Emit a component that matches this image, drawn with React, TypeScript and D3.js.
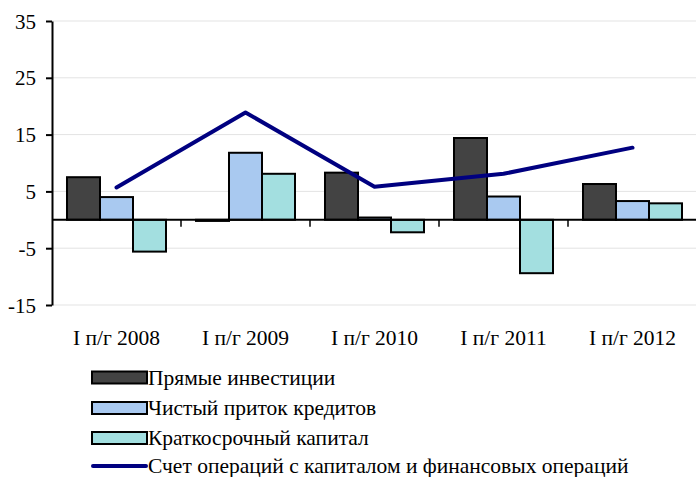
import * as d3 from "d3";
import { useEffect, useRef } from "react";

const categories = ["I п/г 2008", "I п/г 2009", "I п/г 2010", "I п/г 2011", "I п/г 2012"];
const directInvest = [7.5, -0.2, 8.3, 14.4, 6.3];
const netLoans = [4.0, 11.8, 0.4, 4.1, 3.3];
const shortCapital = [-5.6, 8.1, -2.2, -9.4, 2.9];
const capitalAccount = [5.7, 18.9, 5.8, 8.1, 12.7];
const yTicks = [-15, -5, 5, 15, 25, 35];

const barSeries = [
  { name: "Прямые инвестиции", values: directInvest, color: "#434343" },
  { name: "Чистый приток кредитов", values: netLoans, color: "#a9c9f0" },
  { name: "Краткосрочный капитал", values: shortCapital, color: "#a3dfe0" },
];
const lineName = "Счет операций с капиталом и финансовых операций";

const W = 696;
const H = 477;
const margin = { top: 21, left: 52, right: 697, bottom: 305 };
const font = "Liberation Serif";
const fs = 21.5;

const App = () => {
  const ref = useRef(null);

  useEffect(() => {
    const svg = d3.select(ref.current);
    svg.selectAll("*").remove();

    const y = d3.scaleLinear().domain([-15, 35]).range([margin.bottom, margin.top]);
    const x0 = d3.scaleBand().domain(categories).range([margin.left, margin.right]).padding(0);
    const x1 = d3
      .scaleBand()
      .domain(barSeries.map((s) => s.name))
      .range([0, x0.bandwidth()])
      .paddingInner(0)
      .paddingOuter(0.4545);

    // grid
    svg.append("g")
      .selectAll("line")
      .data(yTicks)
      .enter()
      .append("line")
      .attr("x1", margin.left)
      .attr("x2", W)
      .attr("y1", (d) => y(d))
      .attr("y2", (d) => y(d))
      .attr("stroke", "#e3e3e3")
      .attr("stroke-width", 1);

    // bars
    barSeries.forEach((s) => {
      svg.append("g")
        .selectAll("rect")
        .data(s.values)
        .enter()
        .append("rect")
        .attr("x", (d, i) => x0(categories[i]) + x1(s.name))
        .attr("y", (d) => y(Math.max(0, d)))
        .attr("width", x1.bandwidth())
        .attr("height", (d) => Math.abs(y(d) - y(0)))
        .attr("fill", s.color)
        .attr("stroke", "#000")
        .attr("stroke-width", 2);
    });

    // x axis
    svg.append("line")
      .attr("x1", margin.left)
      .attr("x2", W)
      .attr("y1", y(0))
      .attr("y2", y(0))
      .attr("stroke", "#000")
      .attr("stroke-width", 2);
    svg.append("g")
      .selectAll("line")
      .data(categories.slice(1))
      .enter()
      .append("line")
      .attr("x1", (d) => x0(d))
      .attr("x2", (d) => x0(d))
      .attr("y1", y(0))
      .attr("y2", y(0) + 7)
      .attr("stroke", "#000")
      .attr("stroke-width", 1.5);
    svg.append("g")
      .selectAll("text")
      .data(categories)
      .enter()
      .append("text")
      .attr("x", (d) => x0(d) + x0.bandwidth() / 2)
      .attr("y", 345)
      .attr("text-anchor", "middle")
      .attr("font-family", font)
      .attr("font-size", fs)
      .text((d) => d);

    // y axis
    const yAxis = d3
      .axisLeft(y)
      .tickValues(yTicks)
      .tickFormat((d) => String(d))
      .tickSize(6)
      .tickPadding(10)
      .tickSizeOuter(0);
    const ga = svg.append("g")
      .attr("transform", `translate(${margin.left},0)`)
      .call(yAxis)
      .attr("font-family", font)
      .attr("font-size", 21);
    ga.select(".domain").attr("stroke", "#000").attr("stroke-width", 2);
    ga.selectAll(".tick line").attr("stroke", "#000").attr("stroke-width", 2);
    ga.selectAll(".tick text").attr("fill", "#000").attr("dy", "0.34em");

    // line
    const line = d3
      .line()
      .x((d, i) => x0(categories[i]) + x0.bandwidth() / 2)
      .y((d) => y(d));
    svg.append("path")
      .datum(capitalAccount)
      .attr("d", line)
      .attr("fill", "none")
      .attr("stroke", "#000080")
      .attr("stroke-width", 4)
      .attr("stroke-linecap", "round")
      .attr("stroke-linejoin", "round");

    // legend
    const lg = svg.append("g").attr("font-family", font).attr("font-size", fs);
    const rowY = [377.5, 408, 438, 466];
    barSeries.forEach((s, i) => {
      lg.append("rect")
        .attr("x", 92)
        .attr("y", rowY[i] - 6)
        .attr("width", 55)
        .attr("height", 12)
        .attr("fill", s.color)
        .attr("stroke", "#000")
        .attr("stroke-width", 2);
      lg.append("text")
        .attr("x", 148)
        .attr("y", rowY[i] + 7)
        .text(s.name);
    });
    lg.append("line")
      .attr("x1", 93)
      .attr("x2", 146)
      .attr("y1", rowY[3])
      .attr("y2", rowY[3])
      .attr("stroke", "#000080")
      .attr("stroke-width", 4)
      .attr("stroke-linecap", "round");
    lg.append("text")
      .attr("x", 148)
      .attr("y", rowY[3] + 7)
      .text(lineName);
  }, []);

  return (
    <svg
      ref={ref}
      width={W}
      height={H}
      style={{ position: "absolute", left: 0, top: 0, background: "#fff" }}
    ></svg>
  );
};

export default App;
